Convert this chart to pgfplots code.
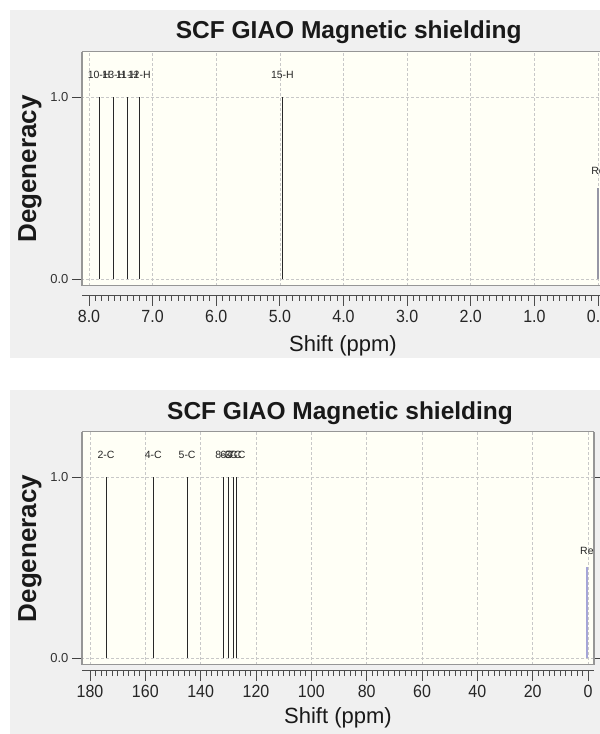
\documentclass[border=0pt]{standalone}
\usepackage{fontspec}
\setmainfont{Liberation Sans}
\usepackage{pgfplots}
\pgfplotsset{compat=1.18}

\definecolor{panel}{RGB}{240,240,240}
\definecolor{plotbg}{RGB}{255,255,246}
\definecolor{framec}{RGB}{150,150,150}
\definecolor{gridc}{RGB}{200,200,200}
\definecolor{peakc}{RGB}{40,40,40}
\definecolor{refA}{RGB}{150,150,165}
\definecolor{refB}{RGB}{165,165,215}

\pgfplotsset{
  nmr/.style={
    scale only axis, x dir=reverse,
    axis background/.style={fill=plotbg},
    separate axis lines,
    x axis line style={draw=framec,line width=1pt},
    y axis line style={draw=framec,line width=1.6pt},
    xmajorgrids, ymajorgrids,
    grid style={gridc,dash pattern=on 2.5pt off 2.5pt,line width=0.7pt},
    xtick style={draw=none}, xticklabels={},
    ytick={0,1}, yticklabels={0.0,1.0},
    tick align=outside, major tick length=10pt,
    ytick style={black!75,line width=0.8pt},
    yticklabel style={font=\fontsize{13}{15}\selectfont,color=black!80},
    ylabel={Degeneracy},
    ylabel style={font=\bfseries\fontsize{26}{30}\selectfont,color=black!90},
    title style={font=\bfseries\fontsize{24.5}{28}\selectfont,color=black!90},
  },
  ruler/.style={
    scale only axis, x dir=reverse,
    height=10pt, ymin=0, ymax=1,
    axis x line=bottom, axis y line=none,
    axis line style={-,black!70,line width=1pt},
    tick align=outside, major tick length=10pt, minor tick length=5pt,
    tick style={black!70,line width=0.8pt},
    xticklabel style={font=\fontsize{16}{18}\selectfont,color=black!85,yscale=1.1},
    /pgf/number format/assume math mode=true,
    xlabel={Shift (ppm)},
    xlabel style={font=\fontsize{22}{26}\selectfont,color=black!90,
      at={(axis description cs:0.5,0)},anchor=center,yshift=-50pt},
  },
  peaks/.style={
    ycomb, no marks, peakc, line width=1pt,
    nodes near coords, point meta=explicit symbolic,
    every node near coord/.append style={anchor=center,yshift=22pt,
      font=\fontsize{10.5}{12}\selectfont,color=black!85},
  },
  refline/.style={
    ycomb, no marks, line width=2.2pt,
    nodes near coords, point meta=explicit symbolic,
    every node near coord/.append style={anchor=center,yshift=17pt,
      font=\fontsize{10.5}{12}\selectfont,color=black!85},
  },
}

\begin{document}
\begin{tikzpicture}
\useasboundingbox (0,0) rectangle (600pt,734pt);
\clip (0,0) rectangle (600pt,734pt);
\fill[white] (0,0) rectangle (600pt,734pt);
\fill[panel] (10pt,376pt) rectangle (600pt,724pt);
\fill[panel] (10pt,0pt) rectangle (600pt,344pt);

% ---- 1H panel ----
\begin{axis}[nmr, at={(82pt,682pt)}, anchor=north west,
  width=522pt, height=234pt,
  xmin=-0.094, xmax=8.11, ymin=-0.038, ymax=1.247,
  xtick={0,1,...,8},
  title={SCF GIAO Magnetic shielding},
  title style={at={(axis description cs:0.511,1.06)},anchor=center},
  ylabel style={at={(axis description cs:-0.0996,0.5)},anchor=center}]
\addplot[peaks] table[meta=label] {
x y label
7.84 1 10-H
7.61 1 13-H
7.40 1 11-H
7.21 1 12-H
4.96 1 15-H
};
\addplot[refline, refA] table[meta=label] {
x y label
0.0 0.5 Re
};
\end{axis}
\begin{axis}[ruler, at={(82pt,438pt)}, anchor=south west,
  width=522pt, xmin=-0.094, xmax=8.11,
  xtick={0,1,...,8}, minor x tick num=9,
  xticklabel={\pgfmathprintnumber[fixed,fixed zerofill,precision=1]{\tick}}]
\end{axis}

% ---- 13C panel ----
\begin{axis}[nmr, at={(82pt,302pt)}, anchor=north west,
  width=512pt, height=233pt,
  xmin=-2.17, xmax=182.9, ymin=-0.039, ymax=1.249,
  xtick={0,20,...,180},
  title={SCF GIAO Magnetic shielding},
  title style={at={(axis description cs:0.504,1.055)},anchor=center},
  ylabel style={at={(axis description cs:-0.1016,0.5)},anchor=center}]
\addplot[peaks] table[meta=label] {
x y label
174.2 1 2-C
157.1 1 4-C
144.9 1 5-C
131.6 1 8-C
129.8 1 6-C
128.3 1 3-C
126.9 1 7-C
};
\addplot[refline, refB] table[meta=label] {
x y label
0.4 0.5 Re
};
\end{axis}
\begin{axis}[ruler, at={(82pt,63pt)}, anchor=south west,
  width=512pt, xmin=-2.17, xmax=182.9,
  xtick={0,20,...,180}, minor x tick num=9,
  xlabel style={yshift=3pt}]
\end{axis}
\end{tikzpicture}
\end{document}
